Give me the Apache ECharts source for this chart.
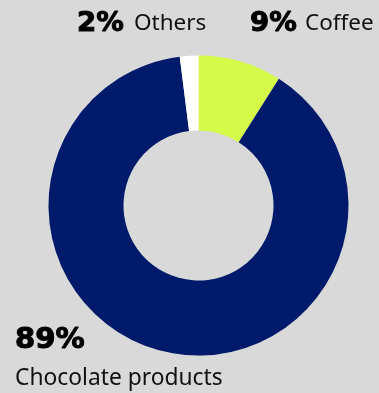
<!DOCTYPE html>
<html><head><meta charset="utf-8">
<script src="https://cdn.jsdelivr.net/npm/echarts@6/dist/echarts.min.js"></script>
<style>html,body{margin:0;padding:0;background:#d9d9d9}#c{width:379px;height:393px}</style>
</head><body><div id="c"></div>
<script>
const categories = ['Coffee', 'Chocolate products', 'Others'];
const values = [9, 89, 2];
const colors = ['#d5fa48', '#001a6b', '#ffffff'];

const chart = echarts.init(document.getElementById('c'), null, {renderer: 'canvas'});
function pct(text, x, y, size, sx) {
  return {type: 'text', x: x, y: y, scaleX: sx, style: {text: text, fontSize: size, fontFamily: 'DejaVu Sans', fontWeight: 'bold', fill: '#000', stroke: '#000', lineWidth: 1, verticalAlign: 'middle', align: 'left'}};
}
function nm(text, x, y, size) {
  return {type: 'text', x: x, y: y, style: {text: text, fontSize: size, fontFamily: 'Noto Sans', fontWeight: 400, fill: '#111', verticalAlign: 'middle', align: 'left'}};
}
chart.setOption({
  backgroundColor: '#d9d9d9',
  animation: false,
  series: [{
    type: 'pie',
    center: [198.5, 205.5],
    radius: [75, 150],
    startAngle: 90,
    clockwise: true,
    label: {show: false},
    labelLine: {show: false},
    itemStyle: {borderWidth: 0},
    data: categories.map((c, i) => ({name: c, value: values[i], itemStyle: {color: colors[i]}}))
  }],
  graphic: [
    pct(values[2] + '%', 77, 24, 26, 1.06),
    nm(categories[2], 134, 24, 22.5),
    pct(values[0] + '%', 250, 24, 26, 1.06),
    nm(categories[0], 305, 24, 22.5),
    pct(values[1] + '%', 15, 341, 28, 1.04),
    nm(categories[1], 15, 379, 22.8)
  ]
});
</script></body></html>
